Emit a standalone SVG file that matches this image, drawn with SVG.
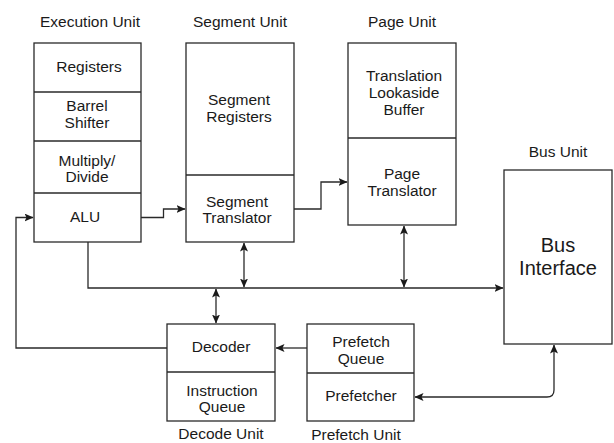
<svg xmlns="http://www.w3.org/2000/svg" width="614" height="443" viewBox="0 0 614 443">
<style>
.box{fill:#fff;stroke:#2a2a2a;stroke-width:1.3}
.div{stroke:#2a2a2a;stroke-width:1.3}
.t{font-family:"Liberation Sans",Arial,sans-serif;font-size:15.5px;fill:#1a1a1a;text-anchor:middle}
.big{font-size:20px}
.c{fill:none;stroke:#2a2a2a;stroke-width:1.3}
</style>
<defs>
<marker id="a" viewBox="0 0 9 8" refX="8.5" refY="4" markerWidth="9" markerHeight="8" markerUnits="userSpaceOnUse" orient="auto-start-reverse">
<path d="M0,0 L9,4 L0,8 L2,4 z" fill="#1a1a1a"/>
</marker>
</defs>
<g id="labels">
<text class="t" x="90" y="27">Execution Unit</text>
<text class="t" x="240" y="27">Segment Unit</text>
<text class="t" x="402" y="27">Page Unit</text>
<text class="t" x="558" y="157">Bus Unit</text>
<text class="t" x="221" y="439">Decode Unit</text>
<text class="t" x="356" y="440">Prefetch Unit</text>
</g>
<g id="execution-unit">
<rect class="box" x="34" y="43" width="107" height="199"/>
<line class="div" x1="34" y1="92" x2="141" y2="92"/>
<line class="div" x1="34" y1="141" x2="141" y2="141"/>
<line class="div" x1="34" y1="193" x2="141" y2="193"/>
<text class="t" x="89" y="72">Registers</text>
<text class="t" x="87" y="111">Barrel</text>
<text class="t" x="87" y="128">Shifter</text>
<text class="t" x="87" y="166">Multiply/</text>
<text class="t" x="87" y="182">Divide</text>
<text class="t" x="85" y="222">ALU</text>
</g>
<g id="segment-unit">
<rect class="box" x="186" y="43" width="108" height="199"/>
<line class="div" x1="186" y1="175" x2="294" y2="175"/>
<text class="t" x="239" y="105">Segment</text>
<text class="t" x="239" y="122">Registers</text>
<text class="t" x="237" y="207">Segment</text>
<text class="t" x="237" y="223">Translator</text>
</g>
<g id="page-unit">
<rect class="box" x="348" y="43" width="108" height="182"/>
<line class="div" x1="348" y1="138" x2="456" y2="138"/>
<text class="t" x="404" y="81">Translation</text>
<text class="t" x="404" y="98">Lookaside</text>
<text class="t" x="404" y="115">Buffer</text>
<text class="t" x="402" y="179">Page</text>
<text class="t" x="402" y="196">Translator</text>
</g>
<g id="bus-unit">
<rect class="box" x="504" y="170" width="108" height="174"/>
<text class="t big" x="558" y="252">Bus</text>
<text class="t big" x="558" y="275">Interface</text>
</g>
<g id="decode-unit">
<rect class="box" x="167" y="324" width="108" height="97"/>
<line class="div" x1="167" y1="372" x2="275" y2="372"/>
<text class="t" x="221" y="352">Decoder</text>
<text class="t" x="222" y="396">Instruction</text>
<text class="t" x="222" y="412">Queue</text>
</g>
<g id="prefetch-unit">
<rect class="box" x="307" y="324" width="107" height="97"/>
<line class="div" x1="307" y1="373" x2="414" y2="373"/>
<text class="t" x="361" y="347">Prefetch</text>
<text class="t" x="361" y="364">Queue</text>
<text class="t" x="361" y="401">Prefetcher</text>
</g>
<g id="connectors">
<path class="c" d="M141,217.5 H163.5 V209 H185" marker-end="url(#a)"/>
<path class="c" d="M294,209 H321 V182 H347" marker-end="url(#a)"/>
<path class="c" d="M167,348 H16 V217.5 H33" marker-end="url(#a)"/>
<path class="c" d="M88,242 V288 H503" marker-end="url(#a)"/>
<path class="c" d="M244,243 V287" marker-start="url(#a)" marker-end="url(#a)"/>
<path class="c" d="M216,289 V323" marker-start="url(#a)" marker-end="url(#a)"/>
<path class="c" d="M404,226 V287" marker-start="url(#a)" marker-end="url(#a)"/>
<path class="c" d="M307,348 H276" marker-end="url(#a)"/>
<path class="c" d="M415,397 H547 Q554,397 554,390 V345" marker-start="url(#a)" marker-end="url(#a)"/>
</g>
</svg>
